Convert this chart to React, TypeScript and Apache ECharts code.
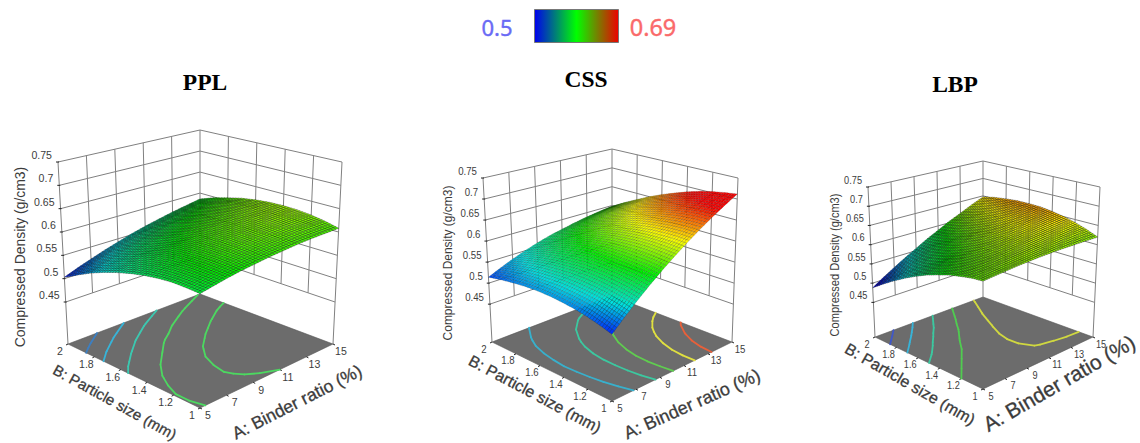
import React, { useEffect, useRef } from "react";
import * as echarts from "echarts";

const A_VALUES = [5, 6, 7, 8, 9, 10, 11, 12, 13, 14, 15];
const B_VALUES = [1, 1.1, 1.2, 1.3, 1.4, 1.5, 1.6, 1.7, 1.8, 1.9, 2];
const A_TICKS = [5, 7, 9, 11, 13, 15];
const B_TICKS = ["1", "1.2", "1.4", "1.6", "1.8", "2"];
const Z_TICKS = ["0.45", "0.5", "0.55", "0.6", "0.65", "0.7", "0.75"];

// rows: B = 1 .. 2, columns: A = 5 .. 15
const PPL_VALUES = [
  [.583, .588, .593, .597, .600, .603, .605, .607, .608, .608, .608],
  [.584, .590, .595, .600, .604, .607, .610, .612, .614, .615, .615],
  [.584, .590, .596, .601, .606, .610, .613, .616, .618, .619, .620],
  [.581, .588, .594, .600, .605, .610, .614, .617, .620, .622, .623],
  [.576, .584, .591, .597, .603, .608, .612, .616, .620, .622, .624],
  [.569, .577, .585, .592, .598, .604, .609, .613, .617, .621, .623],
  [.560, .569, .577, .584, .591, .598, .603, .608, .613, .617, .620],
  [.549, .558, .567, .575, .583, .589, .596, .601, .606, .611, .615],
  [.536, .546, .555, .564, .572, .579, .586, .592, .598, .603, .607],
  [.520, .531, .541, .550, .559, .567, .574, .581, .587, .593, .598],
  [.503, .514, .524, .534, .543, .552, .560, .567, .574, .580, .586],
];
const CSS_VALUES = [
  [.507, .532, .556, .579, .601, .622, .642, .661, .679, .696, .712],
  [.515, .539, .562, .584, .605, .624, .643, .661, .678, .693, .708],
  [.522, .545, .566, .587, .606, .625, .642, .659, .675, .689, .703],
  [.527, .548, .569, .588, .606, .624, .640, .655, .670, .683, .696],
  [.530, .550, .570, .588, .605, .621, .636, .650, .663, .676, .687],
  [.532, .551, .569, .586, .602, .617, .630, .643, .655, .666, .676],
  [.532, .549, .566, .582, .597, .610, .623, .635, .646, .655, .664],
  [.530, .546, .562, .576, .590, .602, .614, .624, .634, .643, .650],
  [.526, .542, .556, .569, .581, .593, .603, .612, .621, .628, .634],
  [.521, .535, .548, .560, .571, .581, .591, .599, .606, .612, .617],
  [.514, .527, .539, .550, .560, .569, .576, .583, .589, .594, .598],
];
const LBP_VALUES = [
  [.615, .617, .619, .621, .622, .623, .623, .623, .622, .621, .620],
  [.612, .616, .619, .622, .625, .627, .629, .630, .631, .632, .632],
  [.606, .612, .617, .621, .625, .629, .633, .636, .638, .640, .642],
  [.599, .606, .612, .618, .624, .629, .634, .639, .643, .647, .650],
  [.589, .598, .606, .613, .621, .627, .634, .640, .646, .651, .656],
  [.578, .588, .597, .606, .615, .624, .632, .639, .646, .653, .660],
  [.564, .575, .586, .597, .608, .618, .627, .636, .645, .653, .661],
  [.548, .561, .574, .586, .598, .609, .620, .631, .641, .651, .661],
  [.530, .545, .559, .573, .586, .599, .612, .624, .636, .647, .658],
  [.510, .526, .542, .557, .572, .587, .601, .615, .628, .641, .654],
  [.488, .506, .523, .540, .556, .573, .588, .604, .618, .633, .647],
];
const PPL_LEVELS = [.526, .545, .565, .585, .605];
const CSS_LEVELS = [.551, .593, .624, .659, .684];
const LBP_LEVELS = [.518, .548, .578, .606, .635];
const PPL_LEVEL_COLORS = ["#3d7fc0", "#38b4d8", "#3cc8b0", "#4cd860", "#4cd860"];
const CSS_LEVEL_COLORS = ["#38b0cc", "#3cc8a0", "#60cc50", "#e0e040", "#e8603a"];
const LBP_LEVEL_COLORS = ["#4058c8", "#38b4d8", "#3cc8a0", "#50cc50", "#d0d840"];

const Z_FLOOR = 0.36;
const Z_TOP = 0.75;
const SUB = 5;

type P = [number, number];
const panels = [
  {
    name: "PPL", rows: PPL_VALUES, levels: PPL_LEVELS, levelColors: PPL_LEVEL_COLORS,
    floor: { f: [200, 408], r: [333, 344], l: [68, 344], k: [200, 294] },
    top: { f: [200, 208], r: [342, 162], l: [58, 162], k: [200, 130] },
    title: [205, 82], mesh: { alpha: 0.7, width: 0.4 },
    zLabel: { x: 20, y: 257, size: 15, sx: 0.93 }, tick: 11.5,
    bLabel: { x: 115, y: 402, size: 15, angle: 29 },
    aLabel: { x: 297, y: 402, size: 17.5, angle: -27 },
  },
  {
    name: "CSS", rows: CSS_VALUES, levels: CSS_LEVELS, levelColors: CSS_LEVEL_COLORS,
    floor: { f: [612, 401], r: [732, 342], l: [492, 342], k: [612, 296] },
    top: { f: [612, 224], r: [738, 178], l: [483, 178], k: [612, 149] },
    title: [586, 79], mesh: { alpha: 0.5, width: 0.3 },
    zLabel: { x: 448, y: 263, size: 13, sx: 0.92 }, tick: 10.5,
    bLabel: { x: 535, y: 394, size: 16, angle: 28 },
    aLabel: { x: 692, y: 404, size: 18, angle: -24 },
  },
  {
    name: "LBP", rows: LBP_VALUES, levels: LBP_LEVELS, levelColors: LBP_LEVEL_COLORS,
    floor: { f: [983, 389], r: [1093, 337], l: [875, 337], k: [983, 297] },
    top: { f: [983, 224], r: [1100, 187], l: [868, 187], k: [983, 161] },
    title: [955, 84], mesh: { alpha: 0.75, width: 0.42 },
    zLabel: { x: 835, y: 265, size: 12, sx: 0.92 }, tick: 10,
    bLabel: { x: 910, y: 384, size: 16, angle: 30 },
    aLabel: { x: 1059, y: 383, size: 21, angle: -30 },
  },
];

const mix = (p: number[], q: number[], t: number) => [p[0] + (q[0] - p[0]) * t, p[1] + (q[1] - p[1]) * t];

function projector(panel: any) {
  const { floor, top } = panel;
  const bil = (c: any, a: number, b: number) =>
    mix(mix(c.f, c.r, a), mix(c.l, c.k, a), b);
  return (a: number, b: number, z: number): P => {
    const lo = bil(floor, a, b);
    const hi = bil(top, a, b);
    return mix(lo, hi, (z - Z_FLOOR) / (Z_TOP - Z_FLOOR)) as P;
  };
}

const STOPS = [[0, 0, 255], [0, 225, 225], [0, 240, 0], [255, 255, 0], [255, 0, 0]];
function colorOf(z: number) {
  const t = Math.max(0, Math.min(0.9999, (z - 0.5) / 0.19)) * (STOPS.length - 1);
  const i = Math.floor(t);
  const f = t - i;
  const c = STOPS[i].map((v, k) => Math.round(v + (STOPS[i + 1][k] - v) * f));
  return `rgb(${c[0]},${c[1]},${c[2]})`;
}

const LINE = { stroke: "#808080", lineWidth: 1 };
const TEXT = "#3c3c3c";
const line = (p: P, q: P, style: any = LINE) => ({
  type: "line", silent: true,
  shape: { x1: p[0], y1: p[1], x2: q[0], y2: q[1] }, style,
});
const txt = (s: string, x: number, y: number, size: number, rotation = 0, align = "center", sx = 1, heavy = false) => ({
  type: "text", silent: true, x, y, rotation, scaleX: sx,
  style: {
    text: s, x: 0, y: 0, fill: TEXT, font: `${size}px "Liberation Sans", Arial, sans-serif`, align, verticalAlign: "middle",
    ...(heavy ? { stroke: "#555555", lineWidth: 0.35 } : {}),
  },
});

function frameChildren(panel: any) {
  const pr = projector(panel);
  const kids: any[] = [];
  const zv = Z_TICKS.map(Number);
  kids.push({
    type: "polygon", silent: true,
    shape: { points: [pr(0, 0, Z_FLOOR), pr(1, 0, Z_FLOOR), pr(1, 1, Z_FLOOR), pr(0, 1, Z_FLOOR)] },
    style: { fill: "#6c6c6c", stroke: "#555555", lineWidth: 0.6 },
  });
  zv.forEach((z) => {
    kids.push(line(pr(0, 1, z), pr(1, 1, z)));
    kids.push(line(pr(1, 1, z), pr(1, 0, z)));
  });
  for (let k = 1; k < 5; k++) {
    kids.push(line(pr(k / 5, 1, zv[0]), pr(k / 5, 1, Z_TOP)));
    kids.push(line(pr(1, k / 5, zv[0]), pr(1, k / 5, Z_TOP)));
  }
  kids.push(line(pr(0, 1, Z_FLOOR), pr(0, 1, Z_TOP)));
  kids.push(line(pr(1, 1, Z_FLOOR), pr(1, 1, Z_TOP)));
  kids.push(line(pr(1, 0, Z_FLOOR), pr(1, 0, Z_TOP)));
  const dark = { stroke: "#222222", lineWidth: 1 };
  Z_TICKS.forEach((t, i) => {
    const p = pr(0, 1, zv[i]);
    kids.push(line([p[0] - 2, p[1]], [p[0] + 1, p[1]], dark));
    kids.push(txt(t, p[0] - 6, p[1] - 7, panel.tick, 0, "right", 0.92));
  });
  A_TICKS.forEach((t, i) => {
    const p = pr(i / 5, 0, Z_FLOOR);
    kids.push(line([p[0], p[1]], [p[0] + 2, p[1] + 1], dark));
    kids.push(txt(String(t), p[0] + 8, p[1] + 7, panel.tick, 0, "center", 0.92));
  });
  B_TICKS.forEach((t, i) => {
    const p = pr(0, i / 5, Z_FLOOR);
    kids.push(line([p[0], p[1]], [p[0] - 2, p[1] + 1], dark));
    kids.push(txt(t, p[0] - 8, p[1] + 7, panel.tick, 0, "center", 0.92));
  });
  kids.push(txt("Compressed Density (g/cm3)", panel.zLabel.x, panel.zLabel.y, panel.zLabel.size, Math.PI / 2, "center", panel.zLabel.sx));
  kids.push(txt("B: Particle size (mm)", panel.bLabel.x, panel.bLabel.y, panel.bLabel.size, (-panel.bLabel.angle * Math.PI) / 180, "center", 1, true));
  kids.push(txt("A: Binder ratio (%)", panel.aLabel.x, panel.aLabel.y, panel.aLabel.size, (-panel.aLabel.angle * Math.PI) / 180, "center", 1, true));
  return kids;
}

function contourChildren(panel: any, level: number, color: string) {
  const pr = projector(panel);
  const rows: number[][] = panel.rows;
  const kids: any[] = [];
  const style = { stroke: color, lineWidth: 1.8, lineCap: "round" };
  const N = rows.length - 1;
  for (let i = 0; i < N; i++) {
    for (let j = 0; j < N; j++) {
      const v = [rows[i][j], rows[i][j + 1], rows[i + 1][j + 1], rows[i + 1][j]];
      const c: [number, number][] = [[j, i], [j + 1, i], [j + 1, i + 1], [j, i + 1]];
      const pts: P[] = [];
      for (let e = 0; e < 4; e++) {
        const n = (e + 1) % 4;
        if ((v[e] < level) !== (v[n] < level)) {
          const t = (level - v[e]) / (v[n] - v[e]);
          pts.push(pr((c[e][0] + (c[n][0] - c[e][0]) * t) / N, (c[e][1] + (c[n][1] - c[e][1]) * t) / N, Z_FLOOR));
        }
      }
      if (pts.length >= 2) kids.push(line(pts[0], pts[1], style));
      if (pts.length === 4) kids.push(line(pts[2], pts[3], style));
    }
  }
  return kids;
}

function surfaceRender(panel: any) {
  const pr = projector(panel);
  const rows: number[][] = panel.rows;
  const N = rows.length - 1;
  const stroke = `rgba(0,0,0,${panel.mesh.alpha})`;
  return (_p: any, api: any) => {
    const j = Math.round(api.value(0) - A_VALUES[0]);
    const i = Math.round((api.value(1) - B_VALUES[0]) * 10);
    if (i >= N || j >= N) return null;
    const at = (u: number, v: number) =>
      (rows[i][j] * (1 - u) + rows[i][j + 1] * u) * (1 - v) + (rows[i + 1][j] * (1 - u) + rows[i + 1][j + 1] * u) * v;
    const kids: any[] = [];
    for (let s = SUB - 1; s >= 0; s--) {
      for (let t = SUB - 1; t >= 0; t--) {
        const u0 = t / SUB, u1 = (t + 1) / SUB, v0 = s / SUB, v1 = (s + 1) / SUB;
        const q = (u: number, v: number) => pr((j + u) / N, (i + v) / N, at(u, v));
        kids.push({
          type: "polygon", silent: true,
          shape: { points: [q(u0, v0), q(u1, v0), q(u1, v1), q(u0, v1)] },
          style: { fill: colorOf(at((u0 + u1) / 2, (v0 + v1) / 2)), stroke, lineWidth: panel.mesh.width },
        });
      }
    }
    return { type: "group", children: kids };
  };
}

function surfaceData(rows: number[][]) {
  const out: number[][] = [];
  for (let i = rows.length - 1; i >= 0; i--)
    for (let j = rows[i].length - 1; j >= 0; j--) out.push([A_VALUES[j], B_VALUES[i], rows[i][j]]);
  return out;
}

function buildOption() {
  const series: any[] = [];
  panels.forEach((panel) => {
    series.push({
      type: "custom", coordinateSystem: "none", silent: true, z: 1, data: [[0]],
      renderItem: () => ({ type: "group", children: frameChildren(panel) }),
    });
    series.push({
      type: "custom", coordinateSystem: "none", silent: true, z: 2, data: panel.levels.map((l) => [l]),
      renderItem: (p: any, api: any) => ({
        type: "group",
        children: contourChildren(panel, api.value(0), panel.levelColors[p.dataIndex]),
      }),
    });
    series.push({
      type: "custom", coordinateSystem: "none", silent: true, z: 3,
      data: surfaceData(panel.rows), renderItem: surfaceRender(panel),
    });
  });
  const graphic: any[] = [
    {
      type: "rect", silent: true, shape: { x: 534.5, y: 9.5, width: 84, height: 33 },
      style: {
        fill: new echarts.graphic.LinearGradient(0, 0, 1, 0, [
          { offset: 0, color: "#0000ee" }, { offset: 0.5, color: "#00ff00" }, { offset: 1, color: "#ee0000" },
        ]),
        stroke: "#777777", lineWidth: 1,
      },
    },
    { type: "text", silent: true, x: 497, y: 27, style: { text: "0.5", fill: "#6a6af5", stroke: "#6a6af5", lineWidth: 0.4, font: '22px "Noto Sans", sans-serif', align: "center", verticalAlign: "middle" } },
    { type: "text", silent: true, x: 653, y: 27, style: { text: "0.69", fill: "#fa6a6a", stroke: "#fa6a6a", lineWidth: 0.4, font: '23.5px "Noto Sans", sans-serif', align: "center", verticalAlign: "middle" } },
    ...panels.map((p) => ({
      type: "text", silent: true, x: p.title[0], y: p.title[1],
      style: { text: p.name, fill: "#000", font: 'bold 23.5px "Liberation Serif", serif', align: "center", verticalAlign: "middle" },
    })),
  ];
  return { animation: false, backgroundColor: "#ffffff", series, graphic };
}

export default function App() {
  const ref = useRef<HTMLDivElement>(null);
  useEffect(() => {
    document.body.style.margin = "0";
    const chart = echarts.init(ref.current!, undefined, { renderer: "svg" });
    chart.setOption(buildOption() as any);
    return () => chart.dispose();
  }, []);
  return <div ref={ref} style={{ width: 1140, height: 443 }} />;
}
